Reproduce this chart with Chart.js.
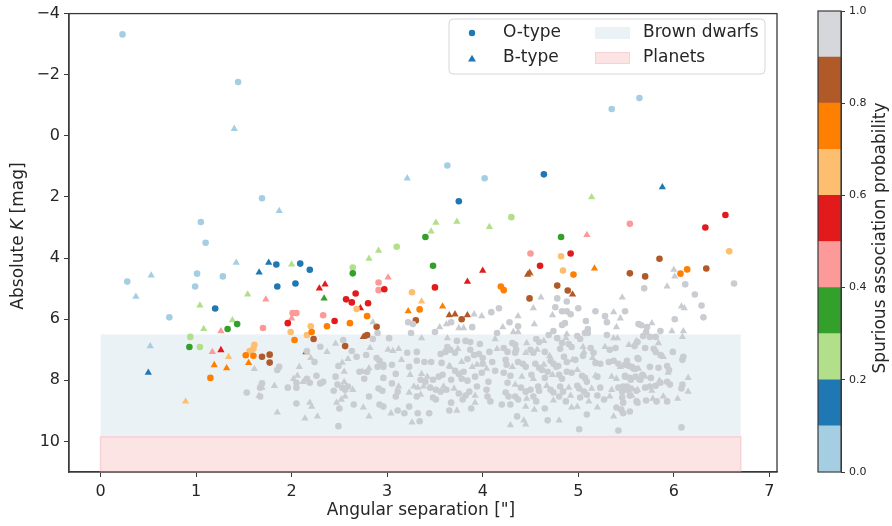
<!DOCTYPE html>
<html>
<head>
<meta charset="utf-8">
<script src="https://cdn.jsdelivr.net/npm/chart.js@4.4.1/dist/chart.umd.min.js"></script>
<style>
  body { margin: 0; background: #fff; }
  #wrap { position: relative; width: 892px; height: 526px; }
  #main { position: absolute; left: 0; top: 0; }
  #cbar { position: absolute; left: 800px; top: 0; }
</style>
</head>
<body>
<div id="wrap">
  <canvas id="main" width="800" height="526"></canvas>
  <canvas id="cbar" width="92" height="526"></canvas>
</div>
<script>
// [angular separation ("), absolute K (mag), spurious association probability]
const oStars = [
  [0.23,-3.32,0.05],[1.44,-1.76,0.05],[0.28,4.77,0.05],[1.05,2.82,0.05],[1.10,3.50,0.05],[1.69,2.04,0.05],
  [3.63,0.97,0.05],[4.02,1.39,0.05],[5.35,-0.88,0.05],[5.64,-1.24,0.05],[1.01,4.51,0.05],[1.28,4.60,0.05],
  [0.99,4.93,0.05],[0.72,5.94,0.05],
  [1.20,5.65,0.15],[1.84,4.21,0.15],[2.09,4.18,0.15],[2.19,4.38,0.15],[1.85,4.93,0.15],[2.04,4.83,0.15],
  [3.75,2.14,0.15],[4.64,1.26,0.15],
  [0.94,6.58,0.25],[1.04,6.91,0.25],[3.10,3.63,0.25],[4.30,2.66,0.25],[2.64,4.31,0.25],
  [0.93,6.91,0.35],[1.33,6.32,0.35],[1.43,6.16,0.35],[2.64,4.50,0.35],[3.48,4.25,0.35],[3.40,3.31,0.35],
  [4.82,3.31,0.35],
  [1.70,6.29,0.45],[2.01,5.80,0.45],[2.05,5.80,0.45],[2.91,4.80,0.45],[2.91,5.05,0.45],[2.33,5.87,0.45],
  [4.50,3.85,0.45],[5.54,2.88,0.45],
  [1.96,6.13,0.55],[2.67,5.16,0.55],[2.57,5.35,0.55],[2.63,5.45,0.55],[2.80,5.48,0.55],[2.97,5.02,0.55],
  [2.45,6.06,0.55],[3.50,4.96,0.55],[4.60,4.25,0.55],[4.92,3.85,0.55],[6.54,2.59,0.55],[6.33,3.00,0.55],
  [1.99,6.42,0.65],[1.56,7.04,0.65],[1.60,6.97,0.65],[1.61,6.84,0.65],[3.26,5.12,0.65],[2.20,6.23,0.65],
  [2.16,6.52,0.65],[2.68,5.67,0.65],[4.84,4.41,0.65],[4.82,3.94,0.65],[6.58,3.78,0.65],
  [1.15,7.92,0.75],[1.52,7.18,0.75],[1.60,7.20,0.75],[2.03,6.68,0.75],[2.21,6.42,0.75],[2.37,6.23,0.75],
  [2.61,6.13,0.75],[2.79,5.90,0.75],[3.34,5.68,0.75],[4.19,4.93,0.75],[4.22,5.05,0.75],[4.95,4.54,0.75],
  [6.07,4.51,0.75],[6.14,4.37,0.75],
  [1.69,7.23,0.85],[1.77,7.16,0.85],[1.77,7.42,0.85],[2.23,6.65,0.85],[2.56,6.88,0.85],[2.79,6.52,0.85],
  [2.89,6.25,0.85],[3.30,6.04,0.85],[3.78,6.00,0.85],[4.49,5.32,0.85],[4.78,4.90,0.85],[4.89,5.06,0.85],
  [5.54,4.50,0.85],[5.70,4.60,0.85],[6.34,4.34,0.85],[5.85,4.02,0.85]
];

const bStars = [
  [1.40,-0.23,0.05],[1.87,2.46,0.05],[3.21,1.39,0.05],[0.53,4.57,0.05],[0.37,5.26,0.05],[0.52,6.88,0.05],
  [1.42,4.15,0.05],
  [0.50,7.75,0.15],[1.76,4.15,0.15],[1.66,4.47,0.15],[5.88,1.68,0.15],
  [1.04,5.55,0.25],[1.08,6.32,0.25],[1.54,5.19,0.25],[1.38,6.03,0.25],[2.00,4.21,0.25],[2.81,4.02,0.25],
  [2.91,3.76,0.25],[3.46,3.13,0.25],[3.51,2.84,0.25],[3.73,2.81,0.25],[4.07,2.98,0.25],[5.14,2.01,0.25],
  [2.34,5.32,0.35],
  [1.26,6.39,0.45],[1.73,5.35,0.45],[1.17,7.07,0.45],[2.00,5.97,0.45],[3.01,4.63,0.45],[5.09,3.24,0.45],
  [1.26,7.01,0.55],[2.29,4.99,0.55],[2.35,4.86,0.55],[2.72,5.64,0.55],[3.84,4.77,0.55],[4.00,4.41,0.55],
  [0.89,8.69,0.65],[1.34,7.23,0.65],[3.36,5.42,0.65],[4.50,4.52,0.65],
  [1.19,7.50,0.75],[1.32,7.60,0.75],[1.55,7.43,0.75],[3.22,5.74,0.75],[3.58,5.58,0.75],[5.17,4.34,0.75],
  [2.15,7.08,0.85],[2.75,6.58,0.85],[3.65,5.87,0.85],[3.71,5.84,0.85],[3.84,5.87,0.85],[4.47,4.54,0.85],
  [4.49,4.48,0.85],[4.94,5.19,0.85]
];

// probability > 0.9 (grey)
const oSpurious = [
  [2.54,6.68],[2.30,6.90],[2.63,7.04],[2.16,7.04],[2.24,7.40],[2.68,7.23],[2.49,7.53],[1.87,7.56],[1.85,7.66],
  [2.71,7.72],[2.26,7.85],[2.16,7.95],[2.19,8.08],[2.05,8.08],[2.05,8.24],[2.30,8.10],[2.33,8.05],[2.46,7.88],
  [2.48,8.14],[2.53,8.24],[2.56,8.31],[2.59,8.20],[2.44,8.34],[2.65,8.79],[2.50,8.92],[1.96,8.24],[1.69,8.10],
  [1.67,8.24],[1.67,8.53],[1.53,8.40],[2.05,8.76],[2.49,9.50],
  [4.09,5.77],[3.22,6.10],[3.27,6.16],[3.67,6.10],[3.89,6.26],[2.90,6.45],[3.25,6.45],[3.50,6.42],[4.15,6.45],
  [3.02,6.62],[2.85,6.65],[3.73,6.71],[3.82,6.71],[3.87,6.75],[3.97,6.81],[3.21,7.10],[2.78,7.17],[3.31,7.07],
  [3.63,6.91],[3.61,7.07],[3.56,7.14],[3.66,7.00],[3.71,7.10],[3.87,7.00],[3.91,7.17],[3.96,7.14],[4.07,7.07],
  [2.89,7.27],[2.92,7.36],[2.90,7.56],[2.96,7.49],[3.31,7.36],[3.39,7.40],[3.46,7.40],[3.57,7.43],[3.84,7.30],
  [4.00,7.27],[4.00,7.46],[4.10,7.40],[2.79,7.72],[2.96,7.56],[3.05,7.49],[3.23,7.56],[3.09,7.79],[3.54,7.88],
  [3.58,7.82],[3.71,7.69],[3.75,7.79],[3.80,7.72],[3.99,7.75],[4.13,7.69],[2.76,7.95],[2.96,7.92],[3.35,7.98],
  [3.40,8.05],[3.48,7.98],[3.67,7.98],[3.78,7.95],[3.84,8.01],[3.92,7.88],[4.06,8.05],[3.45,8.24],[3.51,8.31],
  [3.56,8.37],[3.05,8.10],[2.91,8.27],[2.95,8.34],[3.11,8.37],[3.09,8.53],[2.81,8.53],[3.31,8.53],[3.62,8.31],
  [3.75,8.43],[3.82,8.50],[3.86,8.37],[3.94,8.20],[4.04,8.31],[3.48,8.56],[3.51,8.63],[3.67,8.73],[3.79,8.63],
  [4.05,8.53],[4.08,8.69],[2.92,8.79],[2.96,8.86],[3.11,8.99],[3.23,8.86],[3.18,9.08],[3.32,9.08],[3.44,9.08],
  [3.65,8.99],[3.88,8.92],[3.34,9.34],
  [4.78,5.32],[4.88,5.42],[5.00,5.64],[4.76,5.61],[4.83,5.74],[4.88,5.74],[4.92,5.84],[5.18,5.74],[5.49,5.74],
  [5.28,5.90],[5.08,6.06],[4.86,6.13],[4.83,6.19],[5.30,6.10],[4.28,6.10],[4.37,6.23],[5.63,6.16],[5.10,6.32],
  [5.07,6.45],[4.74,6.39],[4.69,6.52],[4.78,6.62],[4.99,6.55],[5.02,6.65],[5.10,6.45],[5.30,6.52],[4.56,6.65],
  [4.59,6.75],[4.31,6.78],[4.34,6.84],[5.62,6.75],[4.83,6.78],[4.90,6.81],[4.93,6.91],[4.81,6.97],[5.13,6.94],
  [5.16,7.10],[5.33,7.00],[5.39,6.94],[4.22,6.94],[4.26,7.07],[4.35,7.00],[4.34,7.10],[4.50,7.00],[4.53,7.10],
  [4.65,7.07],[4.71,7.36],[4.74,7.46],[4.77,7.56],[4.79,7.53],[4.85,7.23],[4.88,7.40],[4.97,7.33],[5.05,7.20],
  [5.18,7.43],[5.23,7.46],[5.32,7.40],[5.37,7.36],[5.42,7.46],[5.51,7.36],[5.53,7.53],[5.58,7.62],[5.62,7.27],
  [4.24,7.33],[4.25,7.49],[4.37,7.40],[4.42,7.46],[4.45,7.56],[4.55,7.46],[4.59,7.59],[4.62,7.66],[4.68,7.72],
  [4.22,7.75],[4.29,7.85],[4.51,7.82],[4.65,7.92],[4.80,7.82],[4.83,7.95],[4.88,7.72],[4.93,7.75],[5.04,7.85],
  [5.07,7.92],[5.09,8.05],[5.20,7.88],[5.49,7.88],[5.55,7.98],[5.60,7.88],[4.26,8.08],[4.40,8.24],[4.45,8.37],
  [4.50,8.31],[4.58,8.20],[4.59,8.34],[4.71,8.31],[4.74,8.40],[4.81,8.20],[4.84,8.37],[4.99,8.18],[5.01,8.27],
  [5.06,8.37],[5.09,8.47],[5.23,8.24],[5.42,8.24],[5.46,8.37],[5.51,8.20],[5.55,8.27],[4.24,8.40],[4.27,8.53],
  [4.34,8.53],[4.37,8.63],[4.53,8.53],[4.56,8.69],[4.80,8.53],[4.87,8.69],[5.02,8.56],[5.20,8.50],[5.27,8.63],
  [5.46,8.56],[5.47,8.73],[5.61,8.69],[4.29,8.79],[4.65,8.92],[5.09,9.12],[5.40,8.89],[5.45,8.96],[5.47,9.08],
  [5.54,9.02],[4.36,9.18],[4.68,9.31],[5.01,9.60],[5.42,9.64],[4.20,8.79],[4.17,5.64],
  [6.12,4.86],[5.69,4.99],[6.63,4.83],[6.22,5.19],[6.29,5.55],[6.01,6.00],[6.31,5.94],[5.66,6.20],[5.72,6.26],
  [5.71,6.42],[5.86,6.39],[5.68,6.55],[5.75,6.58],[5.81,6.58],[5.59,6.88],[5.70,6.94],[5.79,6.97],[5.81,7.07],
  [5.86,7.17],[5.99,7.07],[6.09,7.33],[6.10,7.23],[5.63,7.30],[5.49,7.49],[5.56,7.56],[5.60,7.62],[5.75,7.56],
  [5.84,7.59],[5.93,7.53],[5.95,7.66],[5.49,7.85],[5.54,7.92],[5.67,7.82],[5.65,7.98],[5.76,7.92],[5.96,8.14],
  [5.93,8.05],[6.09,8.14],[6.08,8.27],[5.47,8.20],[5.52,8.31],[5.61,8.34],[5.70,8.24],[5.75,8.20],[5.81,8.18],
  [5.86,8.08],[5.54,8.50],[5.62,8.73],[5.71,8.66],[5.82,8.69],[5.93,8.69],[6.08,9.54]
];

const bSpurious = [
  [2.46,6.80],[2.37,7.07],[2.20,7.27],[2.59,7.30],[2.53,7.42],[2.08,7.56],[1.61,7.63],[2.55,7.72],[2.06,7.85],
  [2.02,7.95],[2.12,8.05],[2.55,8.05],[2.64,8.31],[2.56,8.53],[2.47,8.73],[2.52,8.63],[1.82,8.18],[1.69,8.24],
  [1.66,8.50],[2.19,8.73],[2.21,8.86],[1.85,9.05],[2.27,9.18],[2.14,9.25],
  [3.91,5.84],[3.99,5.90],[2.85,6.10],[3.55,6.26],[3.62,6.16],[3.75,6.29],[3.80,6.29],[3.36,6.62],[3.63,6.62],
  [4.13,6.65],[2.82,6.94],[3.01,7.00],[3.06,7.04],[3.12,6.97],[3.74,6.97],[4.15,6.97],[3.15,7.33],[3.65,7.53],
  [3.78,7.40],[3.94,7.49],[2.74,7.72],[2.81,7.60],[3.24,7.82],[3.36,7.79],[3.42,7.88],[3.66,7.56],[3.89,7.56],
  [4.04,7.62],[3.59,8.20],[3.28,8.20],[3.32,8.24],[3.38,8.20],[3.12,8.20],[3.23,8.40],[3.35,8.47],[3.70,8.27],
  [3.92,8.50],[2.75,8.89],[3.04,9.08],[2.81,9.18],[3.73,8.99],[3.92,8.73],[3.26,9.38],
  [4.61,5.29],[4.53,5.64],[5.37,5.77],[5.46,5.29],[4.37,5.90],[4.73,5.87],[5.44,5.97],[4.54,6.16],[4.21,6.26],
  [5.40,6.26],[4.32,6.42],[4.37,6.42],[4.88,6.49],[4.87,6.62],[5.37,6.62],[5.41,6.62],[4.64,6.71],[4.46,6.78],
  [5.05,6.91],[5.06,7.07],[5.28,6.91],[5.53,6.84],[4.45,7.10],[4.57,7.00],[4.70,7.20],[4.94,7.33],[5.15,7.27],
  [5.44,7.56],[4.31,7.56],[4.64,7.49],[4.41,7.88],[4.53,7.95],[4.73,7.82],[4.99,7.66],[5.18,7.85],[5.35,7.88],
  [5.40,7.95],[5.64,7.98],[4.34,8.14],[4.67,8.18],[4.90,8.24],[5.14,8.27],[5.35,8.31],[5.62,8.31],[4.46,8.60],
  [4.74,8.66],[4.92,8.50],[5.11,8.69],[5.33,8.53],[5.56,8.50],[4.45,8.86],[4.54,8.96],[4.93,8.89],[4.99,8.86],
  [5.20,8.89],[5.37,9.18],[4.43,9.31],[4.29,9.47],[4.45,9.44],[4.80,9.31],
  [6.00,4.38],[6.01,4.60],[5.93,4.93],[6.08,5.58],[6.11,5.64],[5.77,6.13],[5.98,6.39],[6.10,6.39],[6.09,6.58],
  [5.61,6.71],[5.84,6.78],[5.89,7.23],[5.63,7.62],[5.94,7.75],[5.70,7.88],[5.85,8.01],[6.15,7.92],[6.15,8.37],
  [5.77,8.34],[5.78,8.60],[5.89,8.53],[6.04,8.60]
];

const xTicks = [0, 1, 2, 3, 4, 5, 6, 7];
const yTicks = [-4, -2, 0, 2, 4, 6, 8, 10];
const cbTicks = [0, 0.2, 0.4, 0.6, 0.8, 1.0];
const brownDwarfs = [6.5, 9.85];   // mag range
const planets = [9.85, 11];
const regionSep = [0, 6.7];

const cmap = ['#a6cee3','#1f78b4','#b2df8a','#33a02c','#fb9a99','#e31a1c','#fdbf6f','#ff7f00','#b15928','#d5d7da'];
const greyPoint = '#c9ccd0';
const probColor = p => cmap[Math.min(9, Math.floor(p * 10))];

Chart.defaults.font.family = 'DejaVu Sans';
Chart.defaults.color = '#262626';

const regions = {
  id: 'regions',
  beforeDatasetsDraw(chart) {
    const { ctx, scales: { x, y } } = chart;
    const x0 = x.getPixelForValue(regionSep[0]), x1 = x.getPixelForValue(regionSep[1]);
    ctx.save();
    let y0 = y.getPixelForValue(brownDwarfs[0]), y1 = y.getPixelForValue(brownDwarfs[1]);
    ctx.fillStyle = '#ebf2f6';
    ctx.fillRect(x0, y0, x1 - x0, y1 - y0);
    y0 = y.getPixelForValue(planets[0]); y1 = y.getPixelForValue(planets[1]);
    ctx.fillStyle = '#fce4e4';
    ctx.fillRect(x0, y0, x1 - x0, y1 - y0);
    ctx.strokeStyle = '#f6d2d5';
    ctx.lineWidth = 1.5;
    ctx.strokeRect(x0, y0, x1 - x0, y1 - y0);
    ctx.restore();
  }
};

function drawTriangle(ctx, cx, cy, r) {
  ctx.beginPath();
  ctx.moveTo(cx, cy - r);
  ctx.lineTo(cx + r * 0.95, cy + r * 0.6);
  ctx.lineTo(cx - r * 0.95, cy + r * 0.6);
  ctx.closePath();
  ctx.fill();
}

const decorations = {
  id: 'decorations',
  afterDraw(chart) {
    const { ctx, chartArea: a } = chart;
    ctx.save();
    // frame
    ctx.strokeStyle = '#3a3a3a';
    ctx.lineWidth = 1.3;
    ctx.strokeRect(a.left, a.top, a.right - a.left, a.bottom - a.top);

    // axis titles
    ctx.fillStyle = '#262626';
    ctx.font = '17px "DejaVu Sans"';
    ctx.textAlign = 'center';
    ctx.textBaseline = 'middle';
    ctx.fillText('Angular separation ["]', (a.left + a.right) / 2 - 2, 511);

    ctx.save();
    ctx.translate(19, 236);
    ctx.rotate(-Math.PI / 2);
    const parts = [['Absolute ', ''], ['K', 'italic '], [' [mag]', '']];
    let total = 0;
    parts.forEach(([t, s]) => { ctx.font = s + '17px "DejaVu Sans"'; total += ctx.measureText(t).width; });
    let px = -total / 2;
    ctx.textAlign = 'left';
    parts.forEach(([t, s]) => {
      ctx.font = s + '17px "DejaVu Sans"';
      ctx.fillText(t, px, 0);
      px += ctx.measureText(t).width;
    });
    ctx.restore();

    // legend
    const lx = 449, ly = 19, lw = 316, lh = 55;
    ctx.beginPath();
    ctx.roundRect(lx, ly, lw, lh, 4);
    ctx.fillStyle = 'rgba(255,255,255,0.85)';
    ctx.fill();
    ctx.strokeStyle = '#d6d6d6';
    ctx.lineWidth = 1;
    ctx.stroke();

    ctx.fillStyle = cmap[1];
    ctx.beginPath();
    ctx.arc(472, 33, 3.2, 0, Math.PI * 2);
    ctx.fill();
    drawTriangle(ctx, 472, 59, 4.2);

    ctx.fillStyle = '#ebf2f6';
    ctx.fillRect(595, 27, 35, 12);
    ctx.fillStyle = '#fce4e4';
    ctx.fillRect(595, 52, 35, 12);
    ctx.strokeStyle = '#f6d2d5';
    ctx.strokeRect(595.5, 52.5, 34, 11);

    ctx.fillStyle = '#262626';
    ctx.font = '17px "DejaVu Sans"';
    ctx.textAlign = 'left';
    ctx.textBaseline = 'middle';
    ctx.fillText('O-type', 503, 33);
    ctx.fillText('B-type', 503, 58);
    ctx.fillText('Brown dwarfs', 643, 33);
    ctx.fillText('Planets', 643, 58);
    ctx.restore();
  }
};

const minus = v => (v < 0 ? '\u2212' + Math.abs(v) : String(v));

new Chart(document.getElementById('main'), {
  type: 'scatter',
  data: {
    datasets: [
      { label: 'O spurious', data: oSpurious.map(([x, y]) => ({ x, y })), pointStyle: 'circle',
        pointRadius: 3.3, backgroundColor: greyPoint, borderWidth: 0 },
      { label: 'B spurious', data: bSpurious.map(([x, y]) => ({ x, y })), pointStyle: 'triangle',
        pointRadius: 4.2, backgroundColor: greyPoint, borderWidth: 0 },
      { label: 'O-type', data: oStars.map(([x, y]) => ({ x, y })), pointStyle: 'circle',
        pointRadius: 3.3, backgroundColor: oStars.map(s => probColor(s[2])), borderWidth: 0 },
      { label: 'B-type', data: bStars.map(([x, y]) => ({ x, y })), pointStyle: 'triangle',
        pointRadius: 4.2, backgroundColor: bStars.map(s => probColor(s[2])), borderWidth: 0 }
    ]
  },
  options: {
    responsive: false,
    animation: false,
    layout: { padding: { top: 11, right: 23, left: 0, bottom: 0 } },
    plugins: { legend: { display: false }, tooltip: { enabled: false } },
    scales: {
      x: {
        type: 'linear', min: -0.33, max: 7.08,
        afterBuildTicks: s => { s.ticks = xTicks.map(v => ({ value: v })); },
        afterFit: s => { s.height = 54; },
        grid: { drawOnChartArea: false, tickLength: 5, color: '#3a3a3a' },
        border: { color: '#3a3a3a', width: 1.3 },
        ticks: { font: { size: 16 }, color: '#262626', padding: 5, maxRotation: 0, callback: minus }
      },
      y: {
        type: 'linear', reverse: true, min: -4, max: 11,
        afterBuildTicks: s => { s.ticks = yTicks.map(v => ({ value: v })); },
        afterFit: s => { s.width = 69; },
        grid: { drawOnChartArea: false, tickLength: 5, color: '#3a3a3a' },
        border: { color: '#3a3a3a', width: 1.3 },
        ticks: { font: { size: 16 }, color: '#262626', padding: 4, callback: minus }
      }
    }
  },
  plugins: [regions, decorations]
});

const cbDecor = {
  id: 'cbDecor',
  afterDraw(chart) {
    const { ctx, chartArea: a } = chart;
    ctx.save();
    ctx.strokeStyle = '#3a3a3a';
    ctx.lineWidth = 1.2;
    ctx.strokeRect(a.left, a.top, a.right - a.left, a.bottom - a.top);
    ctx.translate(81, 238);
    ctx.rotate(-Math.PI / 2);
    ctx.fillStyle = '#262626';
    ctx.font = '17px "DejaVu Sans"';
    ctx.textAlign = 'center';
    ctx.textBaseline = 'middle';
    ctx.fillText('Spurious association probability', 0, 0);
    ctx.restore();
  }
};

new Chart(document.getElementById('cbar'), {
  type: 'bar',
  data: {
    labels: [''],
    datasets: cmap.map(c => ({ data: [0.1], backgroundColor: c, borderWidth: 0,
      barPercentage: 1, categoryPercentage: 1 }))
  },
  options: {
    responsive: false,
    animation: false,
    layout: { padding: { left: 18, top: 11, bottom: 54, right: 0 } },
    plugins: { legend: { display: false }, tooltip: { enabled: false } },
    scales: {
      x: { stacked: true, display: false },
      y: {
        stacked: true, position: 'right', min: 0, max: 1,
        afterBuildTicks: s => { s.ticks = cbTicks.map(v => ({ value: v })); },
        afterFit: s => { s.width = 51; },
        grid: { drawOnChartArea: false, tickLength: 4, color: '#3a3a3a' },
        border: { color: '#3a3a3a' },
        ticks: { font: { size: 11 }, color: '#262626', padding: 4, callback: v => v.toFixed(1) }
      }
    }
  },
  plugins: [cbDecor]
});
</script>
</body>
</html>
